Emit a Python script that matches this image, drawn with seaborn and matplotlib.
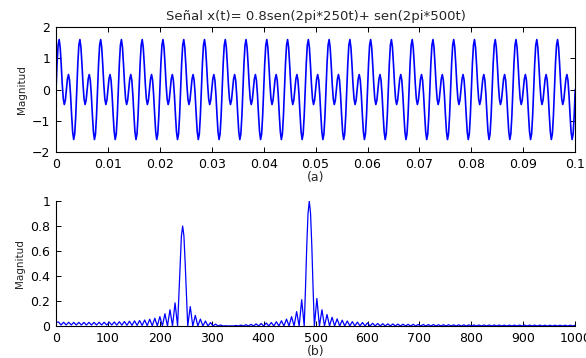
import numpy as np
import pandas as pd
import matplotlib
matplotlib.use("Agg")
import matplotlib.pyplot as plt
import seaborn as sns

# ---------------- data ----------------
title_text = "Señal x(t)= 0.8sen(2pi*250t)+ sen(2pi*500t)"
ylabel_text = "Magnitud"

sample_period_s = 0.0002
period_values = [0.0, 0.84, 1.42, 1.60, 1.35, 0.80, 0.17, -0.30, -0.48, -0.34,
                 0.0, 0.34, 0.48, 0.30, -0.17, -0.80, -1.35, -1.60, -1.42, -0.84]
n_periods = 25

time_ticks = [0, 0.01, 0.02, 0.03, 0.04, 0.05, 0.06, 0.07, 0.08, 0.09, 0.1]
time_tick_labels = ["0", "0.01", "0.02", "0.03", "0.04", "0.05", "0.06", "0.07", "0.08", "0.09", "0.1"]
amp_ticks = [-2, -1, 0, 1, 2]

# bottom panel: spectrum magnitude, bin width in Hz
bin_width_hz = 1000 / 205

bins_low = list(range(0, 48))
mag_low = [0.030, 0.032, 0.008, 0.030, 0.008, 0.030, 0.008, 0.029, 0.008, 0.029,
           0.008, 0.029, 0.008, 0.029, 0.008, 0.029, 0.008, 0.030, 0.008, 0.030,
           0.008, 0.031, 0.008, 0.032, 0.007, 0.034, 0.007, 0.036, 0.006, 0.038,
           0.005, 0.041, 0.005, 0.044, 0.004, 0.048, 0.003, 0.054, 0.002, 0.062,
           0.001, 0.075, 0.000, 0.098, 0.000, 0.130, 0.000, 0.185]

bins_peak1 = [48, 48.5, 49, 49.5, 50, 50.5, 51, 51.5, 52]
mag_peak1 = [0.0, 0.24, 0.50, 0.72, 0.80, 0.72, 0.50, 0.24, 0.0]

bins_mid = list(range(53, 98))
mag_mid = [0.155, 0, 0.085, 0, 0.055, 0, 0.040, 0, 0.027, 0,
           0.015, 0, 0.008, 0, 0.002, 0, 0.001, 0, 0.004, 0,
           0.007, 0, 0.010, 0, 0.013, 0, 0.017, 0, 0.020, 0,
           0.024, 0, 0.028, 0, 0.034, 0, 0.042, 0, 0.055, 0,
           0.075, 0, 0.115, 0, 0.210]

bins_peak2 = [98, 98.5, 99, 99.5, 100, 100.5, 101, 101.5, 102]
mag_peak2 = [0.0, 0.30, 0.64, 0.90, 1.00, 0.90, 0.64, 0.30, 0.0]

bins_high = list(range(103, 206))
mag_high = [0.220, 0, 0.130, 0, 0.092, 0, 0.070, 0, 0.057, 0,
            0.047, 0, 0.040, 0, 0.035, 0, 0.031, 0, 0.028, 0,
            0.025, 0, 0.022, 0, 0.020, 0, 0.018, 0, 0.017, 0,
            0.016, 0, 0.015, 0, 0.014, 0, 0.013, 0, 0.013, 0,
            0.012, 0, 0.012, 0, 0.011, 0, 0.011, 0, 0.010, 0,
            0.010, 0, 0.010, 0, 0.009, 0, 0.009, 0, 0.009, 0,
            0.009, 0, 0.008, 0, 0.008, 0, 0.008, 0, 0.008, 0,
            0.008, 0, 0.008, 0, 0.007, 0, 0.007, 0, 0.007, 0,
            0.007, 0, 0.007, 0, 0.007, 0, 0.007, 0, 0.007, 0,
            0.006, 0, 0.006, 0, 0.006, 0, 0.006, 0, 0.006, 0,
            0.006, 0, 0.006]

freq_ticks = [0, 100, 200, 300, 400, 500, 600, 700, 800, 900, 1000]
mag_ticks = [0, 0.2, 0.4, 0.6, 0.8, 1]
mag_tick_labels = ["0", "0.2", "0.4", "0.6", "0.8", "1"]

# ---------------- build tables ----------------
sig_vals = np.concatenate([np.tile(period_values, n_periods), [period_values[0]]])
sig_t = np.arange(len(sig_vals)) * sample_period_s
df_sig = pd.DataFrame({"t": sig_t, "x": sig_vals})

bins_all = bins_low + bins_peak1 + bins_mid + bins_peak2 + bins_high
mag_all = mag_low + mag_peak1 + mag_mid + mag_peak2 + mag_high
assert len(bins_all) == len(mag_all)
df_spec = pd.DataFrame({"f": np.array(bins_all) * bin_width_hz, "m": mag_all})

# ---------------- style ----------------
sns.set_theme(style="ticks")
plt.rcParams.update({
    "font.family": ["DejaVu Sans"],
    "xtick.direction": "in",
    "ytick.direction": "in",
    "axes.linewidth": 0.8,
    "xtick.major.width": 0.7,
    "ytick.major.width": 0.7,
    "xtick.major.size": 3.5,
    "ytick.major.size": 3.5,
    "axes.edgecolor": "black",
    "xtick.color": "black",
    "ytick.color": "black",
})

fig = plt.figure(figsize=(5.86, 3.58), dpi=100)
ax1 = fig.add_axes([0.0956, 0.5754, 0.886, 0.349])
ax2 = fig.add_axes([0.0956, 0.0894, 0.886, 0.349])

blue = "#0000FF"
sns.lineplot(data=df_sig, x="t", y="x", ax=ax1, color=blue, linewidth=1.2,
             estimator=None, sort=False)
ax1.set_xlim(0, 0.1)
ax1.set_ylim(-2, 2)
ax1.set_xticks(time_ticks)
ax1.set_xticklabels(time_tick_labels)
ax1.set_yticks(amp_ticks)
ax1.tick_params(top=True, right=True, labelsize=9, pad=4)
ax1.set_title(title_text, fontsize=9.5, pad=5)
ax1.set_xlabel("(a)", fontsize=9, labelpad=0)
ax1.set_ylabel(ylabel_text, fontsize=7.5, labelpad=4)

sns.lineplot(data=df_spec, x="f", y="m", ax=ax2, color=blue, linewidth=0.9,
             estimator=None, sort=False)
ax2.set_xlim(0, 1000)
ax2.set_ylim(0, 1)
ax2.set_xticks(freq_ticks)
ax2.set_yticks(mag_ticks)
ax2.set_yticklabels(mag_tick_labels)
ax2.spines["top"].set_visible(False)
ax2.spines["right"].set_visible(False)
ax2.tick_params(labelsize=9, pad=4)
ax2.set_xlabel("(b)", fontsize=9, labelpad=0)
ax2.set_ylabel(ylabel_text, fontsize=7.5, labelpad=4)

fig.savefig("out.png", dpi=100)
